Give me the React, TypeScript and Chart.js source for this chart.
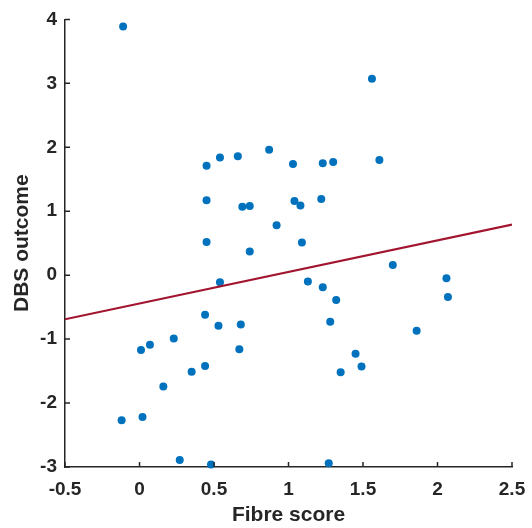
import React, { useEffect, useRef } from "react";
import { Chart, registerables } from "chart.js";

Chart.register(...registerables);

const fibreScore = [
  -0.11, 0.45, 0.54, 0.66, 0.87, 0.45, 0.69, 0.74, 0.45, 0.74,
  1.56, 1.03, 1.23, 1.30, 1.61, 1.04, 1.08, 1.22, 0.92, 1.09, 1.70,
  0.54, 0.44, 0.53, 0.68, 0.01, 0.07, 0.23, 0.67, 0.35, 0.44, 0.16,
  -0.12, 0.02, 0.27, 0.48,
  1.13, 1.23, 1.32, 1.28, 2.06, 2.07, 1.86, 1.45, 1.49, 1.35, 1.27,
];
const dbsOutcome = [
  3.89, 1.71, 1.84, 1.86, 1.96, 1.17, 1.07, 1.08, 0.52, 0.37,
  3.07, 1.74, 1.75, 1.77, 1.80, 1.16, 1.09, 1.19, 0.78, 0.51, 0.16,
  -0.11, -0.62, -0.79, -0.77, -1.17, -1.09, -0.99, -1.16, -1.51, -1.42, -1.74,
  -2.27, -2.22, -2.89, -2.96,
  -0.10, -0.19, -0.39, -0.73, -0.05, -0.34, -0.87, -1.23, -1.43, -1.52, -2.94,
];
const fitX = [-0.5, 2.5];
const fitY = [-0.69, 0.79];

const xTicks = [-0.5, 0, 0.5, 1, 1.5, 2, 2.5];
const yTicks = [-3, -2, -1, 0, 1, 2, 3, 4];

const AXIS_COLOR = "#262626";
const FONT = "'Liberation Sans', Arial, sans-serif";

const inwardTicks = {
  id: "inwardTicks",
  afterDatasetsDraw(chart: any) {
    const { ctx, chartArea } = chart;
    const xs = chart.scales.x;
    const ys = chart.scales.y;
    ctx.save();
    ctx.strokeStyle = AXIS_COLOR;
    ctx.lineWidth = 1.5;
    ctx.beginPath();
    xs.ticks.forEach((t: any) => {
      const px = xs.getPixelForValue(t.value);
      ctx.moveTo(px, chartArea.bottom);
      ctx.lineTo(px, chartArea.bottom - 5);
    });
    ys.ticks.forEach((t: any) => {
      const py = ys.getPixelForValue(t.value);
      ctx.moveTo(chartArea.left, py);
      ctx.lineTo(chartArea.left + 5, py);
    });
    ctx.stroke();
    ctx.restore();
  },
};

export default function App() {
  const ref = useRef<HTMLCanvasElement | null>(null);

  useEffect(() => {
    if (!ref.current) return;
    const chart = new Chart(ref.current, {
      type: "scatter",
      data: {
        datasets: [
          {
            type: "scatter",
            data: fibreScore.map((x, i) => ({ x, y: dbsOutcome[i] })),
            backgroundColor: "#0072BD",
            borderColor: "#0072BD",
            pointRadius: 4,
            pointHoverRadius: 4,
            borderWidth: 0,
            clip: false,
            order: 2,
          },
          {
            type: "line",
            data: fitX.map((x, i) => ({ x, y: fitY[i] })),
            borderColor: "#A2142F",
            borderWidth: 2.2,
            pointRadius: 0,
            fill: false,
            order: 1,
          } as any,
        ],
      },
      options: {
        animation: false,
        responsive: false,
        maintainAspectRatio: false,
        layout: { padding: { top: 16, right: 20, left: 0, bottom: 0 } },
        plugins: {
          legend: { display: false },
          tooltip: { enabled: false },
        },
        scales: {
          x: {
            type: "linear",
            min: -0.5,
            max: 2.5,
            afterBuildTicks: (s: any) => {
              s.ticks = xTicks.map((v) => ({ value: v }));
            },
            afterFit: (s: any) => {
              s.height = 61;
              s.paddingRight = 0;
              s.paddingLeft = 0;
            },
            grid: { display: false, drawTicks: false },
            border: { display: true, color: AXIS_COLOR, width: 1.5 },
            ticks: {
              color: AXIS_COLOR,
              padding: 11,
              font: { family: FONT, size: 19, weight: "bold" },
              callback: (v: any) => String(v),
            },
            title: {
              display: true,
              text: "Fibre score",
              color: AXIS_COLOR,
              font: { family: FONT, size: 21, weight: "bold" },
              padding: { top: 2, bottom: 0 },
            },
          },
          y: {
            type: "linear",
            min: -3,
            max: 4,
            afterBuildTicks: (s: any) => {
              s.ticks = yTicks.map((v) => ({ value: v }));
            },
            afterFit: (s: any) => {
              s.width = 65;
            },
            grid: { display: false, drawTicks: false },
            border: { display: true, color: AXIS_COLOR, width: 1.5 },
            ticks: {
              color: AXIS_COLOR,
              padding: 8,
              font: { family: FONT, size: 19, weight: "bold" },
              callback: (v: any) => String(v),
            },
            title: {
              display: true,
              text: "DBS outcome",
              color: AXIS_COLOR,
              font: { family: FONT, size: 21, weight: "bold" },
              padding: { top: 10, bottom: 0 },
            },
          },
        },
      },
      plugins: [inwardTicks],
    });
    return () => chart.destroy();
  }, []);

  return (
    <div style={{ position: "fixed", left: 0, top: 0, width: 532, height: 528, background: "#fff" }}>
      <canvas ref={ref} width={532} height={528} style={{ display: "block", width: 532, height: 528 }} />
    </div>
  );
}
